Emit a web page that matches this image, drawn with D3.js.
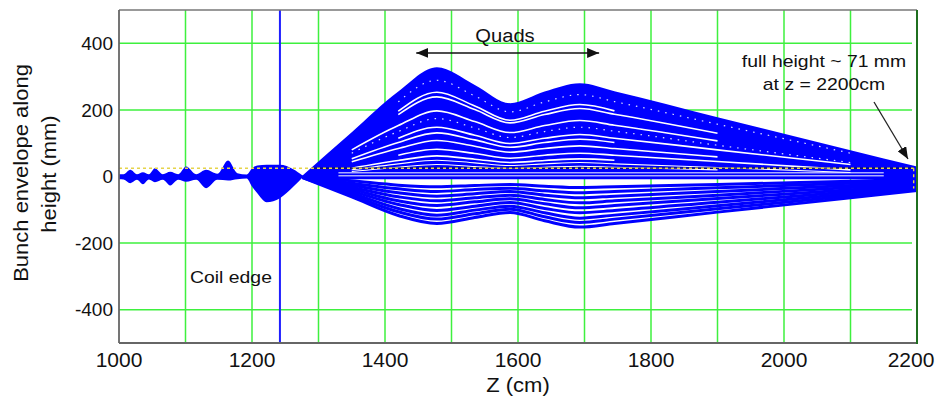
<!DOCTYPE html>
<html><head><meta charset="utf-8">
<script src="https://cdn.jsdelivr.net/npm/d3@7"></script>
<style>
body{margin:0;background:#fff;}
svg{display:block;}
text{font-family:"Liberation Sans",Arial,sans-serif;fill:#111;}
</style>
</head><body>
<svg id="chart" width="935" height="405"></svg>
<script>
// ---------------- data ----------------
const xTicks = [1000, 1200, 1400, 1600, 1800, 2000, 2200];
const yTicks = [-400, -200, 0, 200, 400];
const xGrid = [1100, 1200, 1300, 1400, 1500, 1600, 1700, 1800, 1900, 2000, 2100];
const yGrid = [-400, -200, 200, 400];
const coilEdgeZ = 1242;
const refLevel = 25;              // dashed reference level (mm)
const tipZ = 2195, tipTop = 25, tipBottom = -36;
const quadsFrom = 1447, quadsTo = 1722, quadsLevel = 371;

// region before the quads: oscillating envelope
const zEarly      = [1000, 1007, 1017, 1027, 1036, 1045, 1054, 1066, 1077, 1089, 1101, 1116, 1131, 1148, 1164, 1178, 1192, 1200, 1208, 1222, 1242, 1262, 1276];
const earlyTop    = [7, 7, 20, 7, 13, 7, 25, 7, 14, 7, 30, 7, 20, 8, 48, 10, 6, 24, 33, 35, 35, 22, 3];
const earlyBottom = [-8, -9, -20, -10, -23, -9, -17, -10, -27, -10, -16, -10, -35, -10, -12, -8, -6, -30, -50, -77, -65, -31, -3];

// main fan (knots along z)
const zMain         = [1276, 1350, 1420, 1478, 1535, 1588, 1640, 1693, 1745, 1900, 2100, 2200];
const upperEnvelope = [3, 133, 255, 328, 275, 220, 255, 280, 256, 178, 79, 30];
const coreBottom    = [-3, -8, -8, -8, -8, -8, -8, -8, -8, -8, -8, -8];
const lowerEnvelope = [-3, -61, -117, -141, -123, -108, -133, -152, -141, -107, -64, -42];

// separate trajectories below the axis
const lower1 = [-1, -13, -26, -31, -27, -24, -29, -33, -31, -24, -14, -9];
const lower2 = [-1, -20, -37, -45, -39, -35, -43, -49, -45, -34, -20, -13];
const lower3 = [-1, -26, -49, -59, -52, -45, -56, -64, -59, -45, -27, -18];
const lower4 = [-2, -32, -61, -73, -64, -56, -69, -79, -73, -56, -33, -22];
const lower5 = [-2, -38, -73, -87, -76, -67, -82, -94, -87, -66, -40, -26];
const lower6 = [-2, -44, -84, -102, -89, -78, -96, -109, -102, -77, -46, -30];
const lower7 = [-2, -50, -96, -116, -101, -89, -109, -125, -116, -88, -52, -34];
const lower8 = [-3, -56, -106, -128, -112, -98, -121, -138, -128, -97, -58, -38];

// white gaps between trajectories in the upper (dense) band
const gap1  = [null, null, 196, 253, 212, 169, 196, 216, 197, null, null, null];
const gap2  = [null, null, 186, 239, 201, 161, 186, 204, 187, 130, null, null];
const gap3  = [null, 80, 153, 197, 165, 132, 153, 168, 154, 107, null, null];
const gap4  = [null, null, 115, 148, 124, 99, 115, 126, 115, 80, 36, null];
const gap5  = [null, 53, 102, 131, 110, 88, 102, 112, 102, null, null, null];
const gap6  = [null, 44, 84, 108, 91, 73, 84, 92, 84, 59, null, null];
const gap7  = [null, null, 64, 82, 69, 55, 64, 70, 64, 45, 20, null];
const gap8  = [null, 25, 48, 62, 52, 42, 48, 53, 49, null, null, null];
const gap9  = [null, 20, 38, 49, 41, 33, 38, 42, 38, 27, 12, null];
const gap10 = [null, 15, 28, 36, 30, 24, 28, 31, 28, 20, null, null];
const dotGap1 = [null, null, 224, 289, 242, 194, 224, 246, 225, 157, 70, null];
const dotGap2 = [null, 70, 135, 174, 146, 117, 135, 148, 136, 94, 42, null];

// flat white gaps near the axis
const zFlat = [1330, 2150];
const flatGapA = [11, 11];
const flatGapB = [2, 2];

// ---------------- drawing ----------------
const svg = d3.select("#chart");
const L = 119, R = 917, T = 10, B = 343;
const x = d3.scaleLinear().domain([1000, 2200]).range([L, R]);
const y = d3.scaleLinear().domain([-500, 500]).range([B, T]);

const BLUE = "#0000ff", GREEN = "#3ef03e";

// arrow marker
const defs = svg.append("defs");
["end","start"].forEach(k => {
  defs.append("marker").attr("id","arr-"+k)
    .attr("viewBox","0 0 12 10").attr("refX", k==="end"?12:0).attr("refY",5)
    .attr("markerWidth",12).attr("markerHeight",10).attr("markerUnits","userSpaceOnUse")
    .attr("orient","auto")
    .append("path").attr("d", k==="end" ? "M0,0 L12,5 L0,10 Z" : "M12,0 L0,5 L12,10 Z").attr("fill","#111");
});

// grid
const grid = svg.append("g");
grid.selectAll(".vg").data(xGrid).enter().append("line")
  .attr("x1", d => x(d)).attr("x2", d => x(d)).attr("y1", T).attr("y2", B)
  .attr("stroke", GREEN).attr("stroke-width", 1.5);
grid.selectAll(".hg").data(yGrid).enter().append("line")
  .attr("x1", L).attr("x2", R - 5).attr("y1", d => y(d)).attr("y2", d => y(d))
  .attr("stroke", GREEN).attr("stroke-width", 1.5);

// coil edge
svg.append("line").attr("x1", x(coilEdgeZ)).attr("x2", x(coilEdgeZ)).attr("y1", T).attr("y2", B)
  .attr("stroke", "#1e1eff").attr("stroke-width", 2);

// data
const data = svg.append("g");
const pts = (zs, hi, lo) => zs.map((z, i) => ({z, hi: hi[i], lo: lo ? lo[i] : null}));
const area = d3.area().x(d => x(d.z)).y0(d => y(d.lo)).y1(d => y(d.hi)).curve(d3.curveMonotoneX);
const line = d3.line().defined(d => d.hi != null).x(d => x(d.z)).y(d => y(d.hi)).curve(d3.curveMonotoneX);

data.append("path").attr("d", area(pts(zEarly, earlyTop, earlyBottom))).attr("fill", BLUE);
data.append("path").attr("d", area(pts(zMain, upperEnvelope, coreBottom))).attr("fill", BLUE);

[lower1, lower2, lower3, lower4, lower5, lower6, lower7, lower8, lowerEnvelope].forEach(s => {
  data.append("path").attr("d", line(pts(zMain, s))).attr("fill", "none")
    .attr("stroke", BLUE).attr("stroke-width", 3);
});

[gap1, gap2, gap3, gap4, gap5, gap6, gap7, gap8].forEach(s => {
  data.append("path").attr("d", line(pts(zMain, s))).attr("fill", "none")
    .attr("stroke", "#ffffff").attr("stroke-width", 1.6);
});
[gap9, gap10].forEach(s => {
  data.append("path").attr("d", line(pts(zMain, s))).attr("fill", "none")
    .attr("stroke", "#ffffff").attr("stroke-width", 1.1);
});
[dotGap1, dotGap2].forEach(s => {
  data.append("path").attr("d", line(pts(zMain, s))).attr("fill", "none")
    .attr("stroke", "#dfe3ff").attr("stroke-width", 1.2).attr("stroke-dasharray", "1.5,6");
});
[flatGapA, flatGapB].forEach(s => {
  data.append("path").attr("d", line(pts(zFlat, s))).attr("fill", "none")
    .attr("stroke", "#ffffff").attr("stroke-width", 1);
});

// dashed reference level and tip box
svg.append("line").attr("x1", x(1290)).attr("x2", x(tipZ)).attr("y1", y(refLevel)).attr("y2", y(refLevel))
  .attr("stroke", "#101050").attr("stroke-width", 1.2);
svg.append("line").attr("x1", L).attr("x2", x(tipZ)).attr("y1", y(refLevel)).attr("y2", y(refLevel))
  .attr("stroke", "#e6d44a").attr("stroke-width", 1.4).attr("stroke-dasharray", "3,3");
svg.append("line").attr("x1", x(tipZ)).attr("x2", x(tipZ)).attr("y1", y(tipTop)).attr("y2", y(tipBottom))
  .attr("stroke", "#e6d44a").attr("stroke-width", 1.4).attr("stroke-dasharray", "3,3");

// frame
svg.append("line").attr("x1", L).attr("x2", R).attr("y1", T).attr("y2", T).attr("stroke", "#777").attr("stroke-width", 1.5);
svg.append("line").attr("x1", L).attr("x2", L).attr("y1", T).attr("y2", B).attr("stroke", "#666").attr("stroke-width", 1.8);
svg.append("line").attr("x1", L).attr("x2", R).attr("y1", B).attr("y2", B).attr("stroke", "#666").attr("stroke-width", 1.8);
svg.append("line").attr("x1", R).attr("x2", R).attr("y1", T).attr("y2", B + 1).attr("stroke", "#1f6f1f").attr("stroke-width", 2);

// tick labels
svg.selectAll(".yt").data(yTicks).enter().append("text")
  .attr("x", 113).attr("y", d => y(d)).attr("dy", "0.35em").attr("text-anchor", "end")
  .attr("font-size", 19).text(d => d);
svg.selectAll(".xt").data(xTicks).enter().append("text")
  .attr("x", d => Math.min(x(d), 911)).attr("y", 367).attr("text-anchor", "middle")
  .attr("font-size", 21).text(d => d);

function stretch(sel, k) {
  sel.each(function () {
    const w = this.getComputedTextLength();
    d3.select(this).attr("textLength", w * k).attr("lengthAdjust", "spacingAndGlyphs");
  });
}

// axis titles
stretch(svg.append("text").attr("x", (L + R) / 2).attr("y", 392).attr("text-anchor", "middle")
  .attr("font-size", 20).text("Z (cm)"), 1.1);
stretch(svg.append("text").attr("transform", "translate(28,173) rotate(-90)").attr("text-anchor", "middle")
  .attr("font-size", 20).text("Bunch envelope along"), 1.1);
stretch(svg.append("text").attr("transform", "translate(56,174) rotate(-90)").attr("text-anchor", "middle")
  .attr("font-size", 20).text("height (mm)"), 1.1);

// annotations
stretch(svg.append("text").attr("x", 505).attr("y", 42).attr("text-anchor", "middle")
  .attr("font-size", 18).attr("fill", "#222").text("Quads"), 1.12);
svg.append("line").attr("x1", x(quadsFrom)).attr("x2", x(quadsTo)).attr("y1", y(quadsLevel)).attr("y2", y(quadsLevel))
  .attr("stroke", "#111").attr("stroke-width", 1.5)
  .attr("marker-start", "url(#arr-start)").attr("marker-end", "url(#arr-end)");

stretch(svg.append("text").attr("x", 231).attr("y", 283).attr("text-anchor", "middle")
  .attr("font-size", 17).attr("fill", "#222").text("Coil edge"), 1.14);

stretch(svg.append("text").attr("x", 824).attr("y", 67).attr("text-anchor", "middle")
  .attr("font-size", 17).attr("fill", "#222").text("full height ~ 71 mm"), 1.14);
stretch(svg.append("text").attr("x", 824).attr("y", 90).attr("text-anchor", "middle")
  .attr("font-size", 17).attr("fill", "#222").text("at z = 2200cm"), 1.14);
svg.append("line").attr("x1", 874).attr("y1", 102).attr("x2", 908).attr("y2", 159)
  .attr("stroke", "#222").attr("stroke-width", 1.3).attr("marker-end", "url(#arr-end)");
</script>
</body></html>
